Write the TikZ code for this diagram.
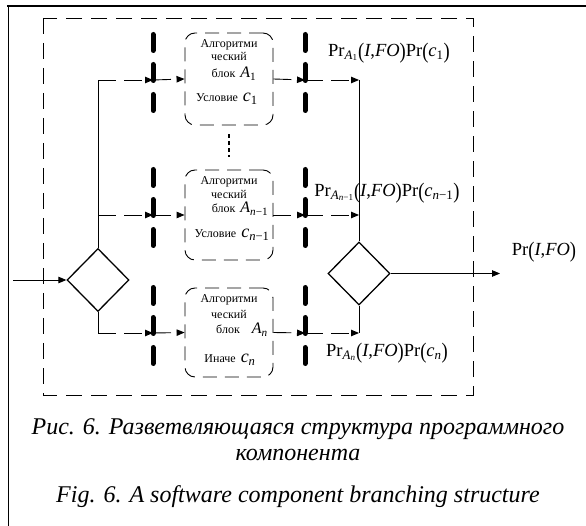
\documentclass[tikz,border=0pt]{standalone}
\usepackage{fontspec}
\setmainfont{Liberation Serif}
\usetikzlibrary{arrows.meta,shapes.geometric}

% большие скобки как в формулах
\newcommand{\lsk}{\raisebox{-0.1em}{\scalebox{1}[1.2]{(}}}
\newcommand{\rsk}{\raisebox{-0.1em}{\scalebox{1}[1.2]{)}}}

\begin{document}
\begin{tikzpicture}[x=1pt, y=-1pt, line join=miter, >={Triangle[length=8pt,width=6.5pt]},
	romb/.style={draw, diamond, line width=1.3pt, minimum width=62pt, minimum height=63pt, inner sep=0pt},
	blok/.style={draw, rectangle, rounded corners=10pt, line width=0.9pt, dash pattern=on 14pt off 8pt, minimum width=88pt},
	barre/.style={line width=5pt, line cap=round, dash pattern=on 16pt off 14pt},
	vetka/.style={line width=0.9pt, dash pattern=on 18pt off 8pt},
	sploshn/.style={line width=0.9pt},
	btxt/.style={font=\fontsize{12}{14}\selectfont, inner sep=0pt},
	lbl/.style={font=\fontsize{18.5}{22}\selectfont, inner sep=0pt},
	podpis/.style={font=\fontsize{24}{28}\selectfont\itshape, inner sep=0pt}]
	\useasboundingbox (0,0) rectangle (586,526);
	
	% Рамка рисунка
	\draw[line width=1.6pt] (7,6) -- (586,6);
	\draw[line width=1pt] (8,6) -- (8,526);
	\draw[line width=0.9pt, dash pattern=on 16pt off 9pt] (43,18) rectangle (473,395);
	
	% Точки ветвления и слияния
	\coordinate (in) at (13,280);
	\coordinate (out) at (500,273.5);
	\coordinate (s1) at (98,80);
	\coordinate (s2) at (98,215);
	\coordinate (s3) at (98,333);
	\coordinate (l1) at (153,80);
	\coordinate (l2) at (153,215);
	\coordinate (l3) at (153,333);
	\coordinate (r1) at (305,80);
	\coordinate (r2) at (305,215);
	\coordinate (r3) at (305,333);
	\coordinate (m1) at (359,80);
	\coordinate (m2) at (359,215);
	\coordinate (m3) at (359,333);
	
	% Ромбы
	\node[romb] (d1) at (98,280) {};
	\node[romb] (d2) at (359,273.5) {};
	
	% Алгоритмические блоки
	\node[blok, minimum height=92pt] (b1) at (229,79) {};
	\node[blok, minimum height=90pt] (b2) at (229,215) {};
	\node[blok, minimum height=89pt] (b3) at (229,332.5) {};
	
	% Жирные разделители
	\foreach \y in {80,215,333}{
		\draw[barre] (153,{\y-45.5}) -- (153,{\y+30.5});
		\draw[barre] (305,{\y-45.5}) -- (305,{\y+30.5});
	}
	
	% Многоточие между блоками
	\draw[line width=2.8pt, dash pattern=on 4pt off 3pt] ([yshift=-9pt]b1.south) -- ([yshift=13pt]b2.north);
	
	% Текст в блоках
	\node[btxt] at ([yshift=-12pt]b1.north) {Алгоритми};
	\node[btxt] at ([yshift=-24pt]b1.north) {ческий};
	\node[btxt] at ([xshift=5pt, yshift=-41pt]b1.north) {блок\, {\fontsize{16}{16}\selectfont\textit{A}\textsubscript{1}}};
	\node[btxt] at ([xshift=-2pt, yshift=-66pt]b1.north) {Условие\, {\fontsize{18}{18}\selectfont\textit{c}\textsubscript{1}}};
	
	\node[btxt] at ([yshift=-12pt]b2.north) {Алгоритми};
	\node[btxt] at ([yshift=-25pt]b2.north) {ческий};
	\node[btxt] at ([xshift=11pt, yshift=-39pt]b2.north) {блок\, {\fontsize{16}{16}\selectfont\textit{A}\textsubscript{\textit{n}−1}}};
	\node[btxt] at ([xshift=3pt, yshift=-65pt]b2.north) {Условие\, {\fontsize{18}{18}\selectfont\textit{c}\textsubscript{\textit{n}−1}}};
	
	\node[btxt] at ([yshift=-12pt]b3.north) {Алгоритми};
	\node[btxt] at ([yshift=-27pt]b3.north) {ческий};
	\node[btxt] at ([xshift=13pt, yshift=-42pt]b3.north) {блок\quad {\fontsize{16}{16}\selectfont\textit{A}\textsubscript{\textit{n}}}};
	\node[btxt] at ([xshift=1pt, yshift=-72pt]b3.north) {Иначе\, {\fontsize{18}{18}\selectfont\textit{c}\textsubscript{\textit{n}}}};
	
	% Вход и разветвление
	\draw[sploshn, ->] (in) -- (d1.west);
	\draw[sploshn] (d1.north) -- (s1);
	\draw[sploshn] (d1.south) -- (s3);
	\foreach \i in {1,2,3}{
		\draw[vetka, ->] (s\i) -- (l\i);
		\draw[vetka, ->] (l\i) -- (b\i.west);
		\draw[vetka, ->] (b\i.east) -- (r\i);
		\draw[vetka, ->] (r\i) -- (m\i);
	}
	
	% Слияние и выход
	\draw[sploshn] (m1) -- (d2.north);
	\draw[sploshn] (d2.south) -- (m3);
	\draw[sploshn, ->] (d2.east) -- (out);
	
	% Вероятности
	\node[lbl] (p1) at (389,53) {Pr\textsubscript{\textit{A}\textsubscript{1}}\lsk\textit{I},\textit{FO}\rsk Pr\lsk\textit{c}\textsubscript{1}\rsk};
	\node[lbl] (p2) at (387,193) {Pr\textsubscript{\textit{A}\textsubscript{\textit{n}−1}}\lsk\textit{I},\textit{FO}\rsk Pr\lsk\textit{c}\textsubscript{\textit{n}−1}\rsk};
	\node[lbl] (p3) at (387,353) {Pr\textsubscript{\textit{A}\textsubscript{\textit{n}}}\lsk\textit{I},\textit{FO}\rsk Pr\lsk\textit{c}\textsubscript{\textit{n}}\rsk};
	\node[lbl] (pout) at (544,252) {Pr\lsk\textit{I},\textit{FO}\rsk};
	
	% Подпись
	\node[podpis] (cap1) at (298,429) {Рис. 6. Разветвляющаяся структура программного};
	\node[podpis] (cap2) at (298,455) {компонента};
	\node[podpis] (cap3) at (298,497) {Fig. 6. A software component branching structure};
\end{tikzpicture}
\end{document}
